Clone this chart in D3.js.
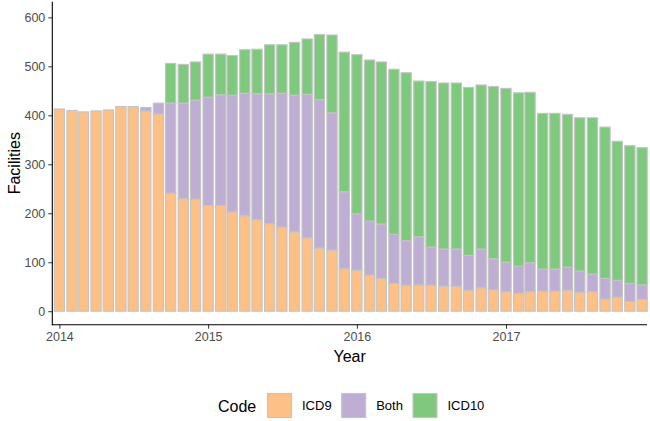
<!DOCTYPE html>
<html>
<head>
<meta charset="utf-8">
<script src="https://cdn.jsdelivr.net/npm/d3@7"></script>
<style>
  html, body { margin: 0; padding: 0; background: #fff; }
  svg { display: block; font-family: "Liberation Sans", Arial, sans-serif; }
</style>
</head>
<body>
<svg id="chart" width="650" height="421"></svg>
<script>
const months = ["2014-01","2014-02","2014-03","2014-04","2014-05","2014-06","2014-07","2014-08","2014-09","2014-10","2014-11","2014-12",
  "2015-01","2015-02","2015-03","2015-04","2015-05","2015-06","2015-07","2015-08","2015-09","2015-10","2015-11","2015-12",
  "2016-01","2016-02","2016-03","2016-04","2016-05","2016-06","2016-07","2016-08","2016-09","2016-10","2016-11","2016-12",
  "2017-01","2017-02","2017-03","2017-04","2017-05","2017-06","2017-07","2017-08","2017-09","2017-10","2017-11","2017-12"];
const icd9 = [413,410,407,409,411,418,418,409,403,241,230,229,216,216,203,195,187,179,172,162,150,129,125,87,
  84,74,67,57,53,54,53,51,51,43,48,44,40,37,40,41,41,43,39,40,25,29,20,24];
const both = [0,0,0,0,0,0,0,7,22,184,195,202,221,226,238,250,257,265,273,279,293,303,280,157,
  115,110,111,100,91,98,78,76,76,71,79,63,60,55,59,45,45,47,43,36,42,34,37,30];
const icd10 = [0,0,0,0,0,0,0,0,0,81,79,78,88,83,81,89,91,100,99,108,113,133,159,285,
  325,329,331,337,343,318,338,339,339,343,335,352,355,354,348,318,318,312,313,319,309,284,281,280];
const codes = ["ICD9","Both","ICD10"];
const colors = ["#FDC086","#BEAED4","#7FC97F"];
const yTicks = [0,100,200,300,400,500,600];
const xTickYears = ["2014","2015","2016","2017"];

const parseMonth = d3.utcParse("%Y-%m");
const rows = months.map((m, i) => ({date: parseMonth(m), ICD9: icd9[i], Both: both[i], ICD10: icd10[i]}));

const svg = d3.select("#chart");
const L = 52.3, R = 647, T = 1.7, B = 324.7;

const x = d3.scaleUtc()
  .domain([new Date(Date.UTC(2013, 11, 14, 14)), new Date(Date.UTC(2017, 11, 13))])
  .range([L, R]);
const y = d3.scaleLinear().domain([-27.5, 632]).range([B, T]);
const color = d3.scaleOrdinal().domain(codes).range(colors);

const stack = d3.stack().keys(codes)(rows);
const barDays = 0.9 * 28;
const barW = x(new Date(Date.UTC(2014,0,1) + barDays*86400000)) - x(new Date(Date.UTC(2014,0,1)));

const g = svg.append("g");
stack.forEach(layer => {
  g.selectAll(null).data(layer.filter(d => d[1] - d[0] > 0)).enter().append("rect")
    .attr("x", d => x(d.data.date) - barW/2)
    .attr("width", barW)
    .attr("y", d => y(d[1]))
    .attr("height", d => y(d[0]) - y(d[1]))
    .attr("fill", color(layer.key))
    .attr("stroke", "#c4c4c4")
    .attr("stroke-width", 1.1);
});

// axes
const yAxis = d3.axisLeft(y).tickValues(yTicks).tickSize(4).tickPadding(3);
const ya = svg.append("g").attr("transform", `translate(${L},0)`).call(yAxis);
ya.select(".domain").remove();
ya.selectAll(".tick line").attr("stroke", "#333").attr("stroke-width", 1);
ya.selectAll(".tick text").attr("fill", "#4d4d4d").style("font-size", "12.5px")
  .style("font-family", "Liberation Sans, Arial, sans-serif");

const yearDates = xTickYears.map(s => d3.utcParse("%Y")(s));
const xAxis = d3.axisBottom(x).tickValues(yearDates).tickFormat(d3.utcFormat("%Y")).tickSize(4).tickPadding(3);
const xa = svg.append("g").attr("transform", `translate(0,${B})`).call(xAxis);
xa.select(".domain").remove();
xa.selectAll(".tick line").attr("stroke", "#333").attr("stroke-width", 1);
xa.selectAll(".tick text").attr("fill", "#4d4d4d").style("font-size", "12.5px")
  .style("font-family", "Liberation Sans, Arial, sans-serif");

svg.append("line").attr("x1", L).attr("x2", L).attr("y1", T).attr("y2", B + 0.5)
  .attr("stroke", "#000").attr("stroke-width", 1.1);
svg.append("line").attr("x1", L - 0.5).attr("x2", R).attr("y1", B).attr("y2", B)
  .attr("stroke", "#000").attr("stroke-width", 1.1);

// axis titles
svg.append("text").attr("x", (L + R) / 2).attr("y", 361.5).attr("text-anchor", "middle")
  .style("font-size", "16px").attr("fill", "#000").text("Year");
svg.append("text").attr("transform", `translate(19.5,${(T + B) / 2}) rotate(-90)`)
  .attr("text-anchor", "middle").style("font-size", "16px").attr("fill", "#000").text("Facilities");

// legend
const lg = svg.append("g");
lg.append("text").attr("x", 218).attr("y", 411.5).style("font-size", "16px").attr("fill", "#000").text("Code");
const keyX = [267.5, 341.7, 413];
codes.forEach((c, i) => {
  lg.append("rect").attr("x", keyX[i]).attr("y", 393.5).attr("width", 24).attr("height", 24)
    .attr("fill", color(c)).attr("stroke", "#c4c4c4").attr("stroke-width", 1.1);
  lg.append("text").attr("x", keyX[i] + 34.5).attr("y", 410).style("font-size", "13px")
    .attr("fill", "#000").text(c);
});
</script>
</body>
</html>
